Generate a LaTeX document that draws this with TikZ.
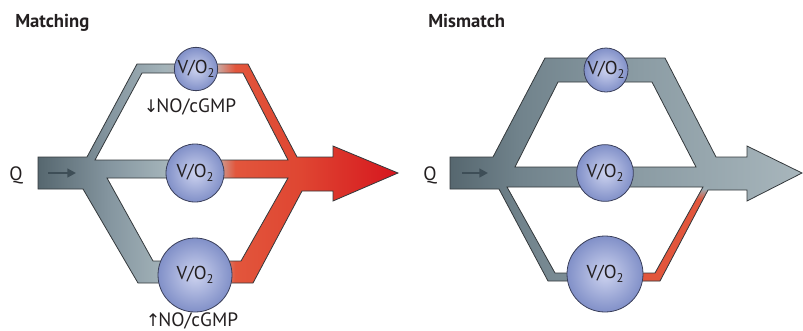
\documentclass[tikz,border=0pt]{standalone}
\usepackage{fontspec}
\setmainfont{PT Sans}
\newfontfamily\symfont{DejaVu Sans}
\usetikzlibrary{arrows.meta}
\definecolor{gdark}{HTML}{56676F}
\definecolor{gmid}{HTML}{8596A0}
\definecolor{glight}{HTML}{A3B3B9}
\definecolor{gpink}{HTML}{C9A9A2}
\definecolor{redA}{HTML}{E2563C}
\definecolor{redC}{HTML}{DF4632}
\definecolor{redB}{HTML}{D6161E}
\definecolor{rdark}{HTML}{56676F}
\definecolor{rmid}{HTML}{71838C}
\definecolor{rmid2}{HTML}{8B9CA4}
\definecolor{rlight}{HTML}{A8B6BC}
\definecolor{rgrey}{HTML}{9AAAB1}
\definecolor{cin}{HTML}{CDD3EF}
\definecolor{cout}{HTML}{8190C8}
\definecolor{cline}{HTML}{3A3F5A}
\definecolor{outline}{HTML}{34393C}
\definecolor{txt}{HTML}{231F20}
\definecolor{qcol}{HTML}{3E4E57}

\pgfdeclarehorizontalshading{leftgrad}{100bp}{color(0bp)=(gdark); color(25bp)=(gdark); color(35bp)=(gmid); color(42.6bp)=(glight); color(49.9bp)=(gpink); color(52.4bp)=(redA); color(61.4bp)=(redC); color(75bp)=(redB); color(100bp)=(redB)}
\pgfdeclarehorizontalshading{rightgrad}{100bp}{color(0bp)=(rdark); color(25bp)=(rdark); color(34.9bp)=(rmid); color(52bp)=(rmid2); color(75bp)=(rlight); color(100bp)=(rlight)}
\pgfdeclareverticalshading{redstrip}{100bp}{color(0bp)=(redA); color(25bp)=(redA); color(68.5bp)=(redA); color(74bp)=(rgrey); color(100bp)=(rgrey)}

\newcommand{\vosub}{V/O\raisebox{-0.45ex}{\fontsize{9.5}{10}\selectfont 2}}
\newcommand{\myarr}[1]{{\symfont\fontsize{13}{14}\selectfont #1}\kern-1.5pt}

\tikzset{
  tubeline/.style={draw=outline, line width=0.6pt, line join=miter},
  vcirc/.style={circle, draw=cline, line width=0.6pt, inner color=cin, outer color=cout, inner sep=0pt, text=txt, font=\fontsize{14}{16}\selectfont},
  lbl/.style={text=txt, inner sep=0pt, font=\fontsize{14.5}{16}\selectfont},
  ttl/.style={text=txt, inner sep=0pt, anchor=base west, font=\fontsize{14}{16}\selectfont\bfseries},
  qarrow/.style={draw=qcol, line width=1.6pt, -{Triangle[length=6.5pt,width=6.5pt]}},
}

\begin{document}
\begin{tikzpicture}[x=0.75pt, y=-0.75pt]
\useasboundingbox (0,0) rectangle (803,330);

% ---------- Left panel: Matching ----------
\shade[shading=leftgrad, even odd rule]
  (38,157) -- (87,157) -- (137,64) -- (248,64) -- (297,157) -- (333,157) -- (333,146) -- (398,173) -- (333,201) -- (333,191) -- (302,191) -- (253,283) -- (138,283) -- (83,189) -- (38,189) -- cycle
  (95,160) -- (142,73) -- (243,73) -- (288,160) -- cycle
  (107,178) -- (288,178) -- (241,261) -- (153,261) -- cycle;
\draw[tubeline]
  (38,157) -- (87,157) -- (137,64) -- (248,64) -- (297,157) -- (333,157) -- (333,146) -- (398,173) -- (333,201) -- (333,191) -- (302,191) -- (253,283) -- (138,283) -- (83,189) -- (38,189) -- cycle
  (95,160) -- (142,73) -- (243,73) -- (288,160) -- cycle
  (107,178) -- (288,178) -- (241,261) -- (153,261) -- cycle;

% ---------- Right panel: Mismatch ----------
\shade[shading=rightgrad, even odd rule]
  (450,157) -- (493,157) -- (545,58) -- (665,58) -- (716,157) -- (747,157) -- (747,146) -- (802,173) -- (747,201) -- (747,190) -- (708,190) -- (660,281) -- (548,281) -- (499,189) -- (450,189) -- cycle
  (515,167) -- (558,82) -- (652,82) -- (696,167) -- cycle
  (507,187) -- (703,187) -- (655,273) -- (555,273) -- cycle;
\shade[shading=redstrip]
  (630,273) -- (655,273) -- (703,187) -- (709.6,187) -- (660,281) -- (630,281) -- cycle;
\draw[tubeline]
  (450,157) -- (493,157) -- (545,58) -- (665,58) -- (716,157) -- (747,157) -- (747,146) -- (802,173) -- (747,201) -- (747,190) -- (708,190) -- (660,281) -- (548,281) -- (499,189) -- (450,189) -- cycle
  (515,167) -- (558,82) -- (652,82) -- (696,167) -- cycle
  (507,187) -- (703,187) -- (655,273) -- (555,273) -- cycle;

% ---------- Inlet arrows ----------
\coordinate (qa1) at (48,173);
\coordinate (qb1) at (76,173);
\coordinate (qa2) at (462,173);
\coordinate (qb2) at (488,173);
\draw[qarrow] (qa1) -- (qb1);
\draw[qarrow] (qa2) -- (qb2);

% ---------- Circles ----------
\node[vcirc, minimum size=32.5pt] (c1) at (196,69) {\vosub};
\node[vcirc, minimum size=43.5pt] (c2) at (195,173) {\vosub};
\node[vcirc, minimum size=55.5pt] (c3) at (195,275) {\vosub};
\node[vcirc, minimum size=33pt] (d1) at (606,70) {\vosub};
\node[vcirc, minimum size=42.5pt] (d2) at (605,173) {\vosub};
\node[vcirc, minimum size=57pt] (d3) at (605,274) {\vosub};

% ---------- Labels ----------
\node[ttl] (t1) at (15,27) {Matching};
\node[ttl] (t2) at (428,27) {Mismatch};
\node[lbl, anchor=base] (q1) at (16,180) {Q};
\node[lbl, anchor=base] (q2) at (430,180) {Q};
\node[lbl, anchor=base] (n1) at (190,112) {\myarr{↓}NO/cGMP};
\node[lbl, anchor=base] (n2) at (192,326) {\myarr{↑}NO/cGMP};
\end{tikzpicture}
\end{document}
